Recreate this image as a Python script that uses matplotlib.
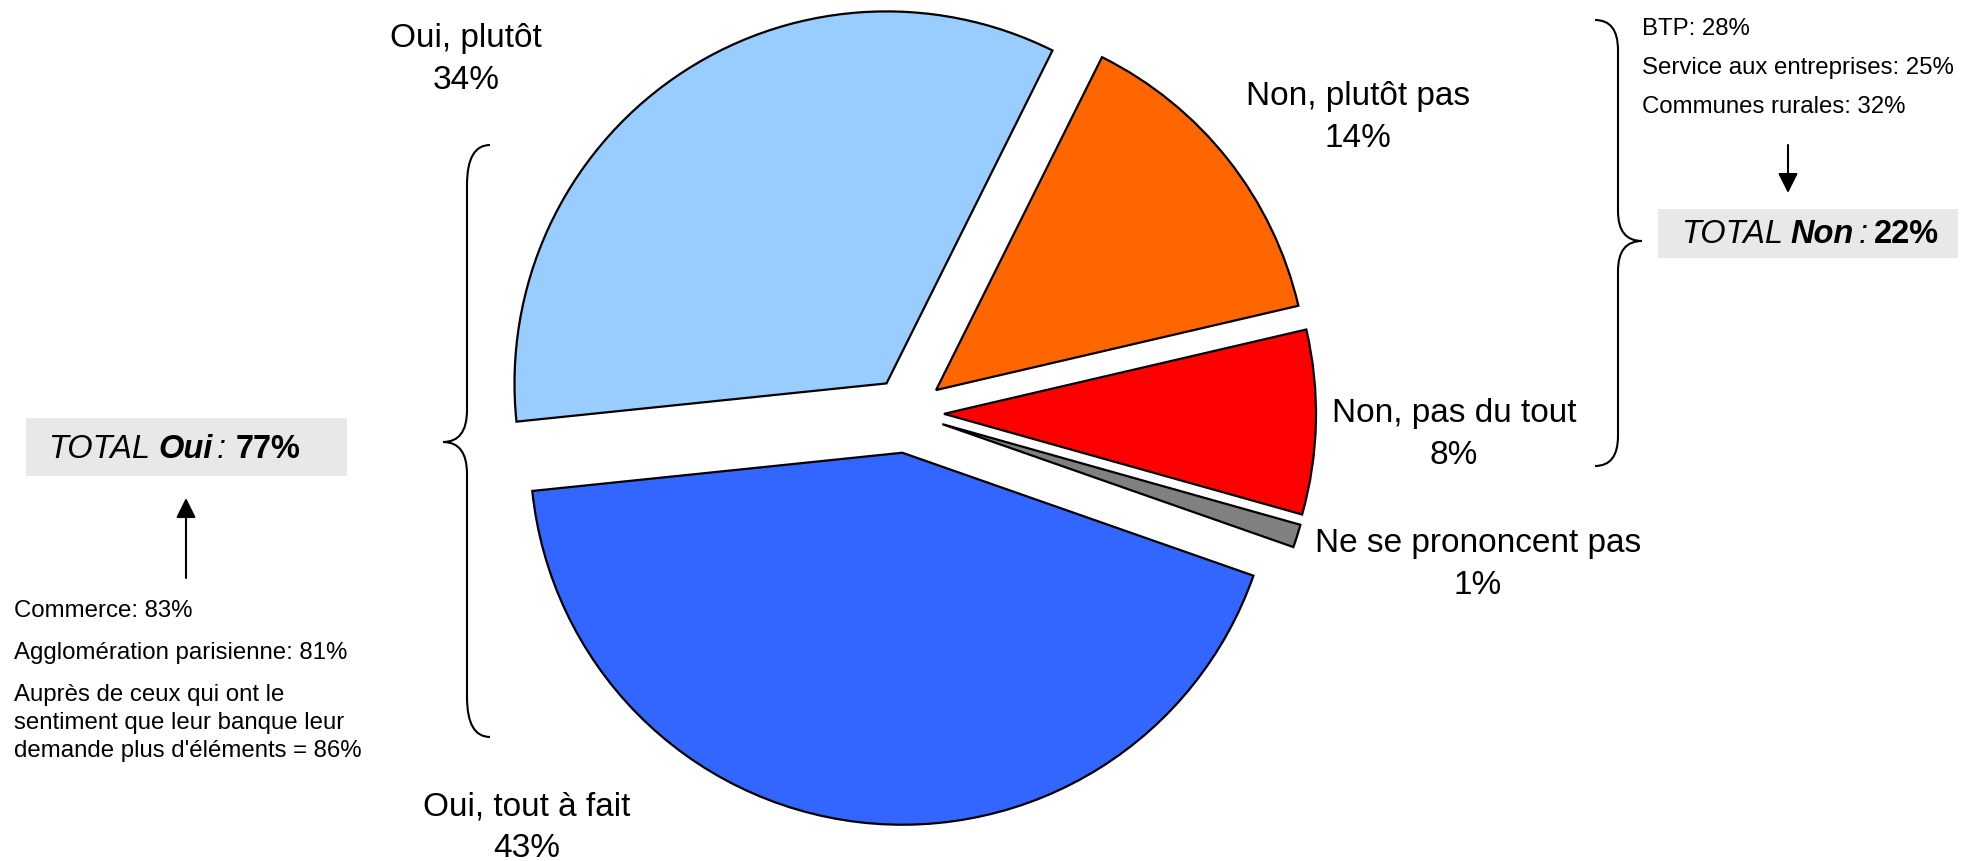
import matplotlib
matplotlib.use("Agg")
import matplotlib.pyplot as plt
from matplotlib.patches import Rectangle, PathPatch
from matplotlib.path import Path

plt.rcParams['font.family'] = ['Liberation Sans', 'DejaVu Sans']

# slices, clockwise starting from the top
labels = ["Non, plutôt pas", "Non, pas du tout", "Ne se prononcent pas",
          "Oui, tout à fait", "Oui, plutôt"]
values = [14, 8, 1, 43, 34]
colors = ["#ff6600", "#ff0000", "#808080", "#3366ff", "#99ccff"]

oui_details = ["Commerce: 83%",
               "Agglomération parisienne: 81%",
               "Auprès de ceux qui ont le\nsentiment que leur banque leur\ndemande plus d'éléments = 86%"]
non_details = ["BTP: 28%", "Service aux entreprises: 25%", "Communes rurales: 32%"]
total_oui = 77
total_non = 22

W, H = 1965, 861
fig = plt.figure(figsize=(W / 100, H / 100), dpi=100)
ax = fig.add_axes([0, 0, 1, 1])

# pie, in pixel coords (y axis goes down)
cx, cy, R = 907, 413, 372
ax.pie(values, colors=colors, explode=[37, 37, 37, 40, 36],
       startangle=-63.5, counterclock=True, radius=R, center=(cx, cy),
       wedgeprops=dict(edgecolor='black', linewidth=1.6))
ax.set_xlim(0, W)
ax.set_ylim(H, 0)
ax.set_aspect('equal')
ax.axis('off')

# slice labels (x centre, baseline of first line)
label_pos = [(1358, 105), (1454, 422), (1478, 552), (527, 815), (466, 47)]
for lab, val, (lx, ly) in zip(labels, values, label_pos):
    ax.text(lx, ly, lab, fontsize=24, ha='center', va='baseline')
    ax.text(lx, ly + 42, f"{val}%", fontsize=24, ha='center', va='baseline')


def brace(x_end, x_line, x_tip, y_top, y_mid, y_bot, h_end, h_tip):
    verts = [(x_end, y_top), (x_line, y_top), (x_line, y_top + h_end),
             (x_line, y_mid - h_tip), (x_line, y_mid), (x_tip, y_mid),
             (x_line, y_mid), (x_line, y_mid + h_tip),
             (x_line, y_bot - h_end), (x_line, y_bot), (x_end, y_bot)]
    codes = [Path.MOVETO, Path.CURVE3, Path.CURVE3, Path.LINETO,
             Path.CURVE3, Path.CURVE3, Path.CURVE3, Path.CURVE3,
             Path.LINETO, Path.CURVE3, Path.CURVE3]
    ax.add_patch(PathPatch(Path(verts, codes), fill=False, lw=1.5, edgecolor='black'))


brace(490, 467, 443, 145, 442, 737, 40, 32)
brace(1595, 1618, 1642, 20, 241, 466, 30, 30)


def total_box(x0, y0, x1, y1, tx, ty, word, pct, gaps):
    ax.add_patch(Rectangle((x0, y0), x1 - x0, y1 - y0, facecolor='#e8e8e8', edgecolor='none'))
    t = ax.text(tx, ty, "TOTAL", fontsize=23.5, style='italic', va='baseline')
    t = ax.annotate(word, xy=(1, 0), xycoords=t, xytext=(gaps[0], 0), textcoords='offset points',
                    fontsize=23.5, style='italic', weight='bold', va='bottom')
    t = ax.annotate(":", xy=(1, 0), xycoords=t, xytext=(gaps[1], 0), textcoords='offset points',
                    fontsize=23.5, style='italic', va='bottom')
    ax.annotate(f"{pct}%", xy=(1, 0), xycoords=t, xytext=(gaps[2], 0), textcoords='offset points',
                fontsize=23.5, weight='bold', va='bottom')


total_box(26, 418, 347, 476, 48, 458, "Oui", total_oui, (6, 3, 7))
total_box(1658, 209, 1958, 258, 1681, 243, "Non", total_non, (5, 4, 4))

# arrows
arrow = dict(arrowstyle='-|>,head_length=0.8,head_width=0.4', color='black',
             lw=1.5, mutation_scale=15, shrinkA=0, shrinkB=0)
ax.annotate('', xy=(186, 498), xytext=(186, 578), arrowprops=arrow)
ax.annotate('', xy=(1788, 193), xytext=(1788, 145), arrowprops=arrow)

# detail texts
y = 617
for item in oui_details:
    for line in item.split("\n"):
        ax.text(14, y, line, fontsize=17.3, va='baseline')
        y += 28
    y += 14

y = 35
for item in non_details:
    ax.text(1642, y, item, fontsize=17.3, va='baseline')
    y += 39

fig.savefig("out.png", dpi=100)
